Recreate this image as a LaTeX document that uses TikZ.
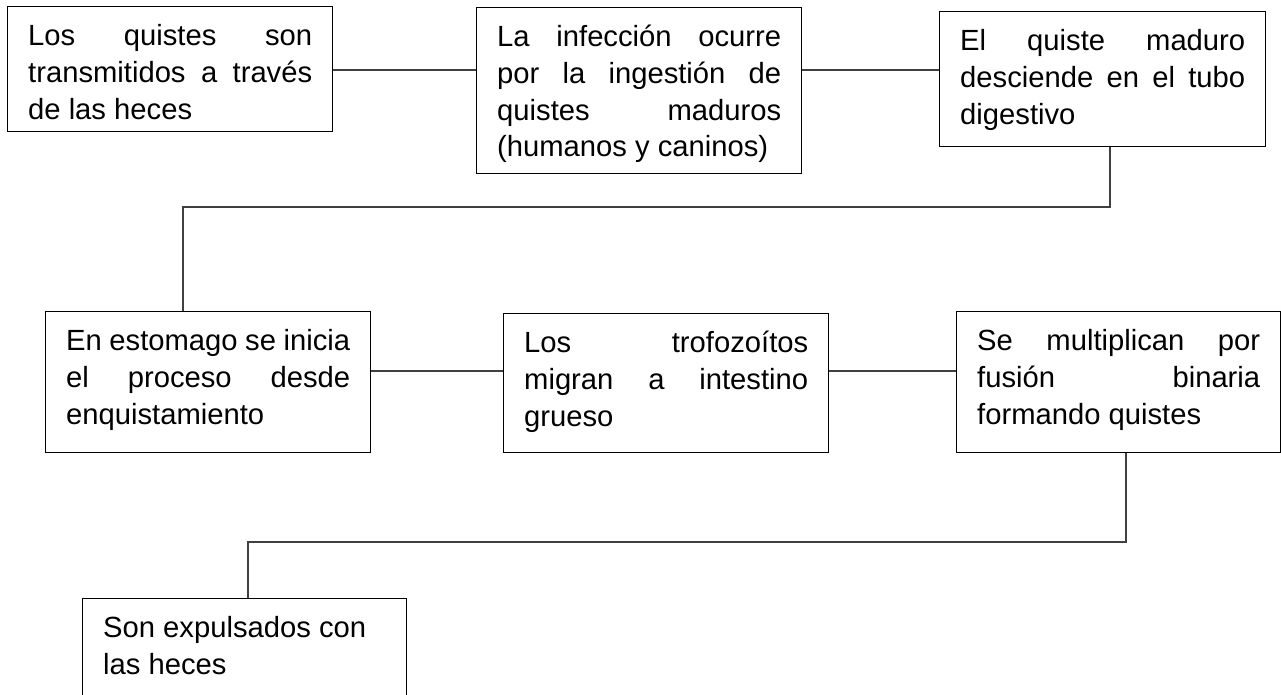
\documentclass[tikz,border=0pt]{standalone}
\usepackage{fontspec}
\setmainfont{Liberation Sans}
\hyphenpenalty=10000
\exhyphenpenalty=10000
\hbadness=10000
\newcommand{\mybox}[3]{\parbox[t][\dimexpr#1pt-26.6pt\relax][t]{\dimexpr#2pt-41pt\relax}{\strut#3}}
\begin{document}
\begin{tikzpicture}[x=1pt,y=-1pt,
  stepbox/.style={draw=black, line width=1.4pt, inner xsep=20.5pt, inner ysep=13.3pt,
    anchor=north west, font=\fontsize{29.2}{36.7}\selectfont},
  link/.style={draw=black!75, line width=1.1pt}]
\useasboundingbox (0,0) rectangle (1281,695);
\clip (0,0) rectangle (1281,695);
\fill[white] (0,0) rectangle (1281,695);

\node[stepbox] (b1) at (7,6) {\mybox{125}{325}{Los quistes son\linebreak transmitidos a través\linebreak de las heces}};
\node[stepbox] (b2) at (476,7) {\mybox{166}{325}{La infección ocurre\linebreak por la ingestión de\linebreak quistes maduros\linebreak (humanos y caninos)}};
\node[stepbox] (b3) at (939,11) {\mybox{135}{326}{El quiste maduro\linebreak desciende en el tubo\linebreak digestivo}};
\node[stepbox] (b4) at (45,311) {\mybox{141}{325}{En estomago se inicia\linebreak el proceso desde\linebreak enquistamiento}};
\node[stepbox] (b5) at (503,313) {\mybox{139}{325}{Los trofozoítos\linebreak migran a intestino\linebreak grueso}};
\node[stepbox] (b6) at (956,311) {\mybox{141}{324}{Se multiplican por\linebreak fusión binaria\linebreak formando quistes}};
\node[stepbox] (b7) at (82,598) {\mybox{130}{324}{Son expulsados con\newline las heces}};

\coordinate (r1) at (0,70);
\coordinate (r2) at (0,371);
\coordinate (k1) at (1110,207);
\coordinate (k2) at (183,207);
\coordinate (k3) at (1126,542);
\coordinate (k4) at (248,542);

\draw[link] (b1.east |- r1) -- (b2.west |- r1);
\draw[link] (b2.east |- r1) -- (b3.west |- r1);
\draw[link] (b3.south -| k1) -- (k1) -- (k2) -- (b4.north -| k2);
\draw[link] (b4.east |- r2) -- (b5.west |- r2);
\draw[link] (b5.east |- r2) -- (b6.west |- r2);
\draw[link] (b6.south -| k3) -- (k3) -- (k4) -- (b7.north -| k4);
\end{tikzpicture}
\end{document}
